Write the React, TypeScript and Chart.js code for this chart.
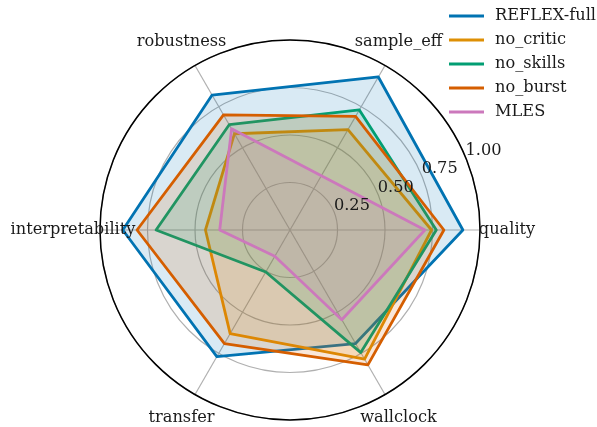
import React, { useEffect, useRef } from "react";
import { Chart, registerables } from "chart.js";

Chart.register(...registerables);

// Axes listed clockwise starting from the right-hand spoke.
const axes = ["quality", "wallclock", "transfer", "interpretability", "robustness", "sample_eff"];

const seriesNames = ["REFLEX-full", "no_critic", "no_skills", "no_burst", "MLES"];
const reflexFull = [0.91, 0.69, 0.77, 0.88, 0.82, 0.93];
const noCritic = [0.745, 0.785, 0.63, 0.445, 0.585, 0.61];
const noSkills = [0.77, 0.745, 0.255, 0.705, 0.64, 0.73];
const noBurst = [0.81, 0.82, 0.69, 0.805, 0.7, 0.69];
const mles = [0.71, 0.545, 0.16, 0.37, 0.615, 0.33];
const seriesValues = [reflexFull, noCritic, noSkills, noBurst, mles];

const colors = ["#0173B2", "#DE8F05", "#029E73", "#D55E00", "#CC78BC"];
const rTicks = [0.25, 0.5, 0.75, 1.0];
const rTickLabels = ["0.25", "0.50", "0.75", "1.00"];

const FONT = "16.2px 'DejaVu Serif'";

function hexA(hex: string, a: number) {
  const n = parseInt(hex.slice(1), 16);
  return `rgba(${(n >> 16) & 255},${(n >> 8) & 255},${n & 255},${a})`;
}

const overlay = {
  id: "overlay",
  afterDraw(chart: any) {
    const ctx = chart.ctx;
    const scale = chart.scales.r;
    const cx = scale.xCenter;
    const cy = scale.yCenter;
    const R = scale.drawingArea;
    ctx.save();

    // outer spine
    ctx.beginPath();
    ctx.arc(cx, cy, R, 0, Math.PI * 2);
    ctx.strokeStyle = "#000";
    ctx.lineWidth = 1.5;
    ctx.stroke();

    ctx.fillStyle = "#1a1a1a";
    ctx.font = FONT;

    // radial tick labels along 22.5 degrees
    const ang = (22.5 * Math.PI) / 180;
    ctx.textAlign = "left";
    ctx.textBaseline = "alphabetic";
    rTicks.forEach((v, i) => {
      const d = scale.getDistanceFromCenterForValue(v);
      const x = cx + d * Math.cos(ang);
      const y = cy - d * Math.sin(ang);
      ctx.fillText(rTickLabels[i], x, y - 2);
    });

    // spoke labels
    ctx.textAlign = "center";
    ctx.textBaseline = "middle";
    axes.forEach((name, i) => {
      const p = scale.getPointPosition(i, R + 27);
      ctx.fillText(name, p.x, p.y);
    });

    // legend
    ctx.textAlign = "left";
    ctx.textBaseline = "middle";
    ctx.lineCap = "butt";
    seriesNames.forEach((name, i) => {
      const y = 16 + i * 24;
      ctx.beginPath();
      ctx.moveTo(449, y);
      ctx.lineTo(484, y);
      ctx.strokeStyle = colors[i];
      ctx.lineWidth = 3;
      ctx.stroke();
      ctx.fillStyle = "#1a1a1a";
      ctx.fillText(name, 495, y);
    });
    ctx.restore();
  },
};

export default function App() {
  const canvasRef = useRef<HTMLCanvasElement>(null);

  useEffect(() => {
    if (!canvasRef.current) return;
    const chart = new Chart(canvasRef.current, {
      type: "radar",
      data: {
        labels: axes,
        datasets: seriesNames.map((name, i) => ({
          label: name,
          data: seriesValues[i],
          borderColor: colors[i],
          backgroundColor: hexA(colors[i], 0.15),
          borderWidth: 2.8,
          borderJoinStyle: "round" as const,
          fill: true,
          pointRadius: 0,
          pointHoverRadius: 0,
          order: seriesNames.length - i,
        })),
      },
      options: {
        responsive: false,
        animation: false,
        events: [],
        layout: { padding: { left: 100, right: 117, top: 40, bottom: 7 } },
        plugins: { legend: { display: false }, tooltip: { enabled: false } },
        scales: {
          r: {
            min: 0,
            max: 1,
            startAngle: 90,
            ticks: { display: false, stepSize: 0.25 },
            pointLabels: { display: false },
            grid: { circular: true, color: "#b0b0b0", lineWidth: 1.2 },
            angleLines: { color: "#b0b0b0", lineWidth: 1.2 },
          },
        },
      },
      plugins: [overlay],
    });
    return () => chart.destroy();
  }, []);

  return (
    <div style={{ position: "fixed", left: 0, top: 0, width: 597, height: 427, background: "#fff" }}>
      <canvas ref={canvasRef} width={597} height={427} />
    </div>
  );
}
